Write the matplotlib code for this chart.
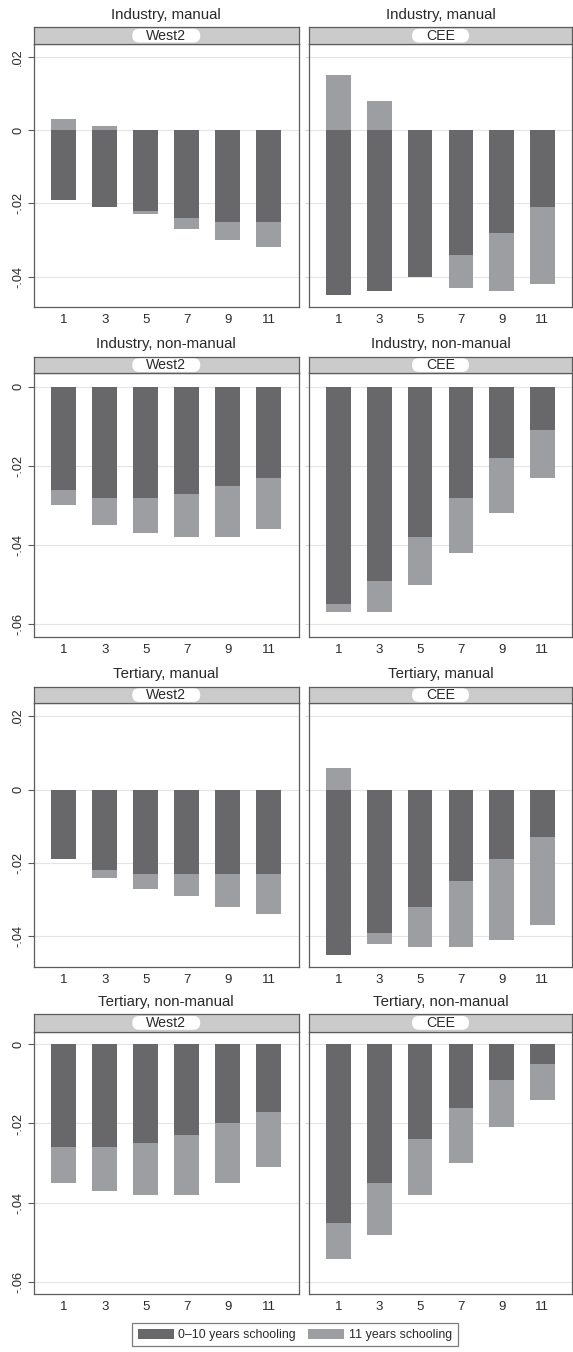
import matplotlib
matplotlib.use('Agg')
import matplotlib.pyplot as plt
from matplotlib.patches import FancyBboxPatch, Patch
from matplotlib.transforms import IdentityTransform

# ---------------- data ----------------
ages = [1, 3, 5, 7, 9, 11]
row_titles = ["Industry, manual", "Industry, non-manual", "Tertiary, manual", "Tertiary, non-manual"]
regions = ["West2", "CEE"]
legend_labels = ["0\u201310 years schooling", "11 years schooling"]

ind_man_west_low = [-0.019, -0.021, -0.022, -0.024, -0.025, -0.025]
ind_man_west_11 = [0.003, 0.001, -0.023, -0.027, -0.030, -0.032]
ind_man_cee_low = [-0.045, -0.044, -0.040, -0.034, -0.028, -0.021]
ind_man_cee_11 = [0.015, 0.008, -0.039, -0.043, -0.044, -0.042]

ind_nm_west_low = [-0.026, -0.028, -0.028, -0.027, -0.025, -0.023]
ind_nm_west_11 = [-0.030, -0.035, -0.037, -0.038, -0.038, -0.036]
ind_nm_cee_low = [-0.055, -0.049, -0.038, -0.028, -0.018, -0.011]
ind_nm_cee_11 = [-0.057, -0.057, -0.050, -0.042, -0.032, -0.023]

ter_man_west_low = [-0.019, -0.022, -0.023, -0.023, -0.023, -0.023]
ter_man_west_11 = [-0.018, -0.024, -0.027, -0.029, -0.032, -0.034]
ter_man_cee_low = [-0.045, -0.039, -0.032, -0.025, -0.019, -0.013]
ter_man_cee_11 = [0.006, -0.042, -0.043, -0.043, -0.041, -0.037]

ter_nm_west_low = [-0.026, -0.026, -0.025, -0.023, -0.020, -0.017]
ter_nm_west_11 = [-0.035, -0.037, -0.038, -0.038, -0.035, -0.031]
ter_nm_cee_low = [-0.045, -0.035, -0.024, -0.016, -0.009, -0.005]
ter_nm_cee_11 = [-0.054, -0.048, -0.038, -0.030, -0.021, -0.014]

panel_data = [
    [(ind_man_west_low, ind_man_west_11), (ind_man_cee_low, ind_man_cee_11)],
    [(ind_nm_west_low, ind_nm_west_11), (ind_nm_cee_low, ind_nm_cee_11)],
    [(ter_man_west_low, ter_man_west_11), (ter_man_cee_low, ter_man_cee_11)],
    [(ter_nm_west_low, ter_nm_west_11), (ter_nm_cee_low, ter_nm_cee_11)],
]
yticks_a = [-0.04, -0.02, 0, 0.02]
yticks_b = [-0.06, -0.04, -0.02, 0]

# ---------------- style / layout ----------------
plt.rcParams['font.family'] = ['Liberation Sans', 'DejaVu Sans']
W, H = 573, 1352
fig = plt.figure(figsize=(W / 100, H / 100), dpi=100)

DARK = '#68686a'
LIGHT = '#9d9ea1'
FRAME = '#5c5c5c'
GRID = '#e4e4e4'
STRIP = '#cbcbcb'
TXT = '#2a2a2a'

cols = [(34.0, 298.5), (309.0, 572.0)]
rows = [
    dict(title_y=15, st=27.3, sb=44.0, pb=307.3, ylim=(-0.0484, 0.0235), ticks=yticks_a),
    dict(title_y=344, st=356.7, sb=373.3, pb=637.3, ylim=(-0.0633, 0.0034), ticks=yticks_b),
    dict(title_y=674, st=686.7, sb=703.3, pb=967.3, ylim=(-0.0484, 0.0236), ticks=yticks_a),
    dict(title_y=1002, st=1014.0, sb=1031.7, pb=1294.3, ylim=(-0.0630, 0.0031), ticks=yticks_b),
]


def rect(x0, x1, ytop, ybot):
    return [x0 / W, 1 - ybot / H, (x1 - x0) / W, (ybot - ytop) / H]


def fmt(v):
    if abs(v) < 1e-12:
        return "0"
    s = f"{v:.2f}"
    return s.replace("0.", ".")


renderer = fig.canvas.get_renderer()

for r, row in enumerate(rows):
    for c, (x0, x1) in enumerate(cols):
        low, eleven = panel_data[r][c]
        ax = fig.add_axes(rect(x0, x1, row['sb'], row['pb']))
        ax.bar(ages, eleven, width=1.2, color=LIGHT, zorder=2, linewidth=0)
        ax.bar(ages, low, width=1.2, color=DARK, zorder=3, linewidth=0)
        ax.set_xlim(-0.45, 12.45)
        ax.set_ylim(*row['ylim'])
        ax.set_xticks(ages)
        ax.set_xticklabels([str(a) for a in ages], fontsize=9.5, color=TXT)
        ax.tick_params(axis='x', length=0, pad=5)
        ax.set_yticks(row['ticks'])
        ax.set_axisbelow(True)
        ax.grid(axis='y', color=GRID, linewidth=0.8, zorder=0)
        if c == 0:
            ax.set_yticklabels([fmt(t) for t in row['ticks']], rotation=90,
                               va='center', fontsize=9.2, color=TXT)
            ax.tick_params(axis='y', length=4, color=FRAME, width=0.8, pad=3)
        else:
            ax.tick_params(axis='y', length=3, color='#d0d0d0', width=0.6, labelleft=False)
        for sp in ax.spines.values():
            sp.set_color(FRAME)
            sp.set_linewidth(0.9)

        # strip
        sax = fig.add_axes(rect(x0, x1, row['st'], row['sb']))
        sax.set_facecolor(STRIP)
        sax.set_xticks([])
        sax.set_yticks([])
        for sp in sax.spines.values():
            sp.set_color(FRAME)
            sp.set_linewidth(0.9)
        sax.set_xlim(0, 1)
        sax.set_ylim(0, 1)
        t = sax.text(0.5, 0.47, regions[c], ha='center', va='center', fontsize=10.2,
                     color=TXT, zorder=3)
        bb = t.get_window_extent(renderer=renderer)
        ax_bb = sax.get_window_extent(renderer=renderer)
        cx = (ax_bb.x0 + ax_bb.x1) / 2
        cy = (ax_bb.y0 + ax_bb.y1) / 2
        pw_px = bb.width + 28
        ph_px = 13.8
        pill = FancyBboxPatch((cx - pw_px / 2, cy - ph_px / 2), pw_px, ph_px,
                              boxstyle=f"round,pad=0,rounding_size={ph_px / 2}",
                              fc='white', ec='none', zorder=2,
                              transform=IdentityTransform())
        sax.add_artist(pill)

        # title
        fig.text(((x0 + x1) / 2) / W, 1 - row['title_y'] / H, row_titles[r],
                 ha='center', va='center', fontsize=10.8, color=TXT)

handles = [Patch(facecolor=DARK, edgecolor='none'), Patch(facecolor=LIGHT, edgecolor='none')]
leg = fig.legend(handles, legend_labels, loc='center', bbox_to_anchor=(295 / W, 1 - 1334.7 / H),
                 ncol=2, fontsize=8.9, frameon=True, fancybox=False, edgecolor=FRAME,
                 handlelength=2.9, handleheight=0.9, handletextpad=0.4, columnspacing=1.0,
                 borderpad=0.45, borderaxespad=0)
leg.get_frame().set_linewidth(0.9)
for txt in leg.get_texts():
    txt.set_color(TXT)

fig.savefig('out.png', dpi=100, facecolor='white')
